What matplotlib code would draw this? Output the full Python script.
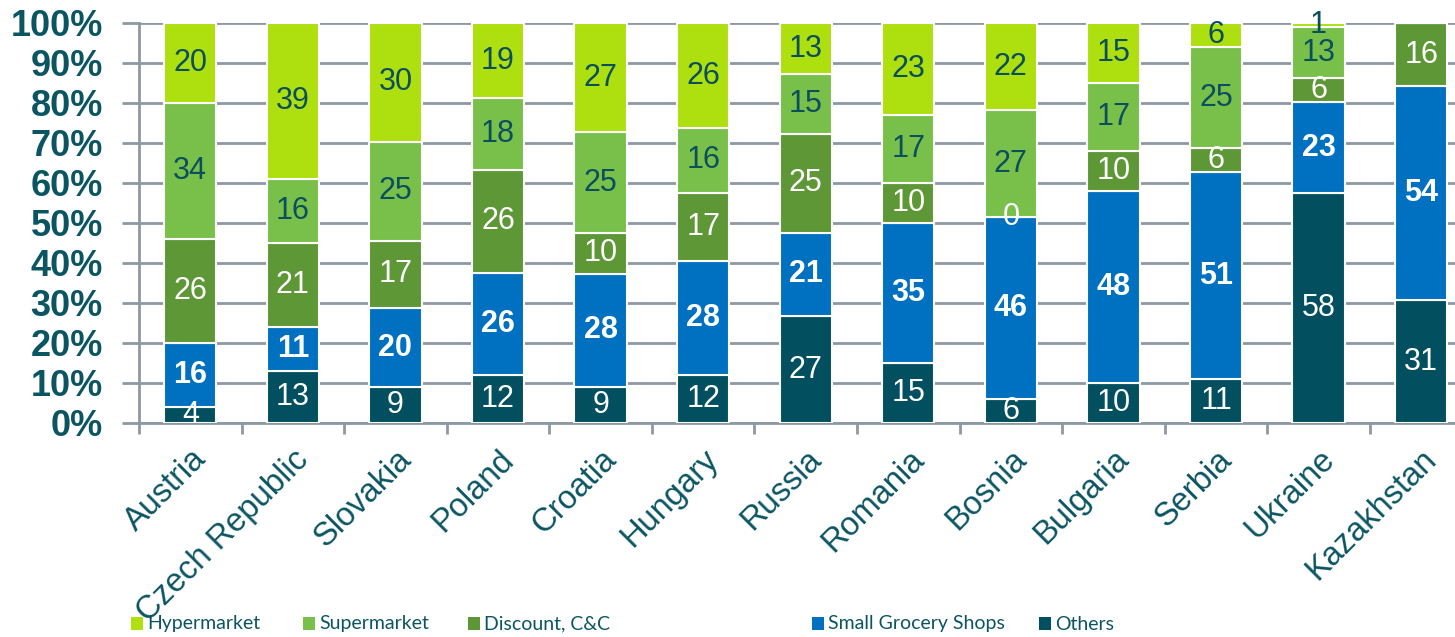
import numpy as np
import matplotlib.pyplot as plt
from matplotlib.patches import Rectangle
from matplotlib.transforms import ScaledTranslation

countries = ['Austria', 'Czech Republic', 'Slovakia', 'Poland', 'Croatia', 'Hungary', 'Russia',
             'Romania', 'Bosnia', 'Bulgaria', 'Serbia', 'Ukraine', 'Kazakhstan']
# shares per channel (raw numbers printed in the chart)
others = [4, 13, 9, 12, 9, 12, 27, 15, 6, 10, 11, 58, 31]
small_shops = [16, 11, 20, 26, 28, 28, 21, 35, 46, 48, 51, 23, 54]
discount = [26, 21, 17, 26, 10, 17, 25, 10, 0, 10, 6, 6, 16]
supermarket = [34, 16, 25, 18, 25, 16, 15, 17, 27, 17, 25, 13, np.nan]
hypermarket = [20, 39, 30, 19, 27, 26, 13, 23, 22, 15, 6, 1, np.nan]

series = [
    ('Others', others, '#02505F', 'white', 'normal'),
    ('Small Grocery Shops', small_shops, '#0070C0', 'white', 'bold'),
    ('Discount, C&C', discount, '#5E9735', 'white', 'normal'),
    ('Supermarket', supermarket, '#79C04A', '#0B4F5F', 'normal'),
    ('Hypermarket', hypermarket, '#AEDF0E', '#0B4F5F', 'normal'),
]

teal = '#0B5563'
grid_c = '#8D98A3'
plt.rcParams['font.family'] = ['Liberation Sans', 'DejaVu Sans']

vals = np.array([np.nan_to_num(np.array(s[1], dtype=float)) for s in series])
totals = vals.sum(axis=0)
pct = vals / totals * 100

W, H = 1455, 637
fig = plt.figure(figsize=(W / 100, H / 100), dpi=100)
ax = fig.add_axes([139 / W, 1 - 423 / H, 1 - 139 / W, 400 / H])

x = np.arange(len(countries))
bottom = np.zeros(len(countries))
for i, (name, raw, color, tcol, weight) in enumerate(series):
    ax.bar(x, pct[i], 0.51, bottom=bottom, color=color, edgecolor='white', linewidth=1.5, zorder=3)
    for j in range(len(countries)):
        v = raw[j]
        if np.isnan(v):
            continue
        ax.text(x[j], bottom[j] + pct[i][j] / 2, '%d' % v, ha='center', va='center',
                fontsize=22, color=tcol, fontweight=weight, zorder=4)
    bottom += pct[i]

ax.set_xlim(-0.5, 12.33)
ax.set_ylim(0, 100)
ax.set_yticks(np.arange(0, 101, 10))
ax.set_yticklabels(['%d%%' % t for t in range(0, 101, 10)], fontsize=26, fontweight='bold', color=teal)
ax.yaxis.grid(True, color=grid_c, linewidth=2, zorder=0)
ax.tick_params(axis='y', length=12, width=2, color=grid_c, pad=14)

ax.set_xticks(x)
ax.set_xticklabels(countries, rotation=45, ha='right', va='top', rotation_mode='anchor',
                   fontsize=23.5, color=teal)
shift = ScaledTranslation(-0.06, 0, fig.dpi_scale_trans)
for lab in ax.get_xticklabels():
    lab.set_transform(lab.get_transform() + shift)
ax.set_xticks(np.arange(-0.5, 12.5, 1), minor=True)
ax.tick_params(axis='x', which='major', length=0, pad=15)
ax.tick_params(axis='x', which='minor', length=8, width=2, color=grid_c)

for s in ['top', 'right']:
    ax.spines[s].set_visible(False)
for s in ['left', 'bottom']:
    ax.spines[s].set_color(grid_c)
    ax.spines[s].set_linewidth(2)

# legend drawn by hand so the entries sit where the original puts them
legend_x = [131, 303, 468, 812, 1039]
for (name, raw, color, tcol, weight), lx in zip(reversed(series), legend_x):
    fig.patches.append(Rectangle((lx / W, 1 - 630 / H), 12 / W, 13 / H, transform=fig.transFigure,
                                 facecolor=color, edgecolor='none'))
    fig.text((lx + 16) / W, 1 - 624 / H, name, ha='left', va='center', color=teal, fontsize=14,
             family=['Lato', 'DejaVu Sans'])

fig.savefig('out.png', dpi=100)
